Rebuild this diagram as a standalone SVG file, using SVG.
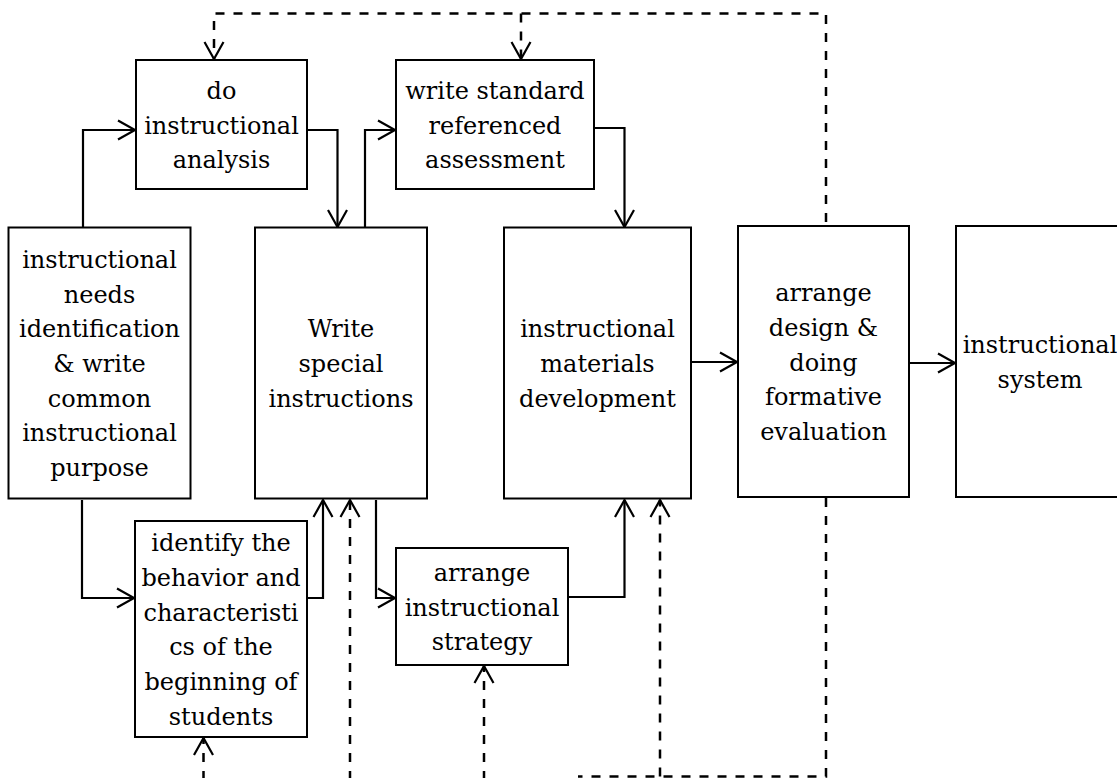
<svg xmlns="http://www.w3.org/2000/svg" width="1117" height="778" viewBox="0 0 1117 778">
<style>
.box{fill:#fff;stroke:#000;stroke-width:2}
.t{font-family:"DejaVu Serif","Liberation Serif",serif;font-size:24px;fill:#000;text-anchor:middle}
.c{fill:none;stroke:#000;stroke-width:2.2}
.d{fill:none;stroke:#000;stroke-width:2.5;stroke-dasharray:9 9}
</style>
<defs>
<marker id="a" markerWidth="20" markerHeight="22" refX="18" refY="10" orient="auto" markerUnits="userSpaceOnUse" viewBox="0 0 20 20" overflow="visible">
<path d="M1,0.5 L18,10 L1,19.5" fill="none" stroke="#000" stroke-width="2.2" stroke-dasharray="none"/>
</marker>
</defs>
<rect width="1117" height="778" fill="#fff"/>
<g id="connectors">
<path class="c" d="M83,227 V130 H135" marker-end="url(#a)"/>
<path class="c" d="M307,130 H337.5 V227" marker-end="url(#a)"/>
<path class="c" d="M365,227 V130 H395" marker-end="url(#a)"/>
<path class="c" d="M594,128 H624.5 V227" marker-end="url(#a)"/>
<path class="c" d="M691,362 H737" marker-end="url(#a)"/>
<path class="c" d="M909,363 H955" marker-end="url(#a)"/>
<path class="c" d="M82,500 V598 H134" marker-end="url(#a)"/>
<path class="c" d="M307,598 H323 V500" marker-end="url(#a)"/>
<path class="c" d="M376,500 V598 H395" marker-end="url(#a)"/>
<path class="c" d="M568,597 H624.5 V500" marker-end="url(#a)"/>
<path class="d" d="M826,222 V13.5 H214 V59" marker-end="url(#a)"/>
<path class="d" d="M521,13.5 V59" marker-end="url(#a)"/>
<path class="d" d="M826,498 V776.5 H578"/>
<path class="d" d="M660,776.5 V500" marker-end="url(#a)"/>
<path class="d" d="M203.5,780 V738" marker-end="url(#a)"/>
<path class="d" d="M350,780 V500" marker-end="url(#a)"/>
<path class="d" d="M484,780 V666" marker-end="url(#a)"/>
</g>
<g id="n1"><rect class="box" x="8.5" y="227.5" width="182" height="271"/>
<text class="t"><tspan x="99.5" y="268">instructional</tspan><tspan x="99.5" y="302.6">needs</tspan><tspan x="99.5" y="337.3">identification</tspan><tspan x="99.5" y="372">&amp; write</tspan><tspan x="99.5" y="406.7">common</tspan><tspan x="99.5" y="441.4">instructional</tspan><tspan x="99.5" y="476.1">purpose</tspan></text></g>
<g id="n2"><rect class="box" x="136" y="60" width="171" height="129"/>
<text class="t"><tspan x="221.5" y="98.8">do</tspan><tspan x="221.5" y="133.5">instructional</tspan><tspan x="221.5" y="168.2">analysis</tspan></text></g>
<g id="n3"><rect class="box" x="255" y="227.5" width="172" height="271"/>
<text class="t"><tspan x="341" y="337.3">Write</tspan><tspan x="341" y="372">special</tspan><tspan x="341" y="406.7">instructions</tspan></text></g>
<g id="n4"><rect class="box" x="396" y="60" width="198" height="129"/>
<text class="t"><tspan x="495" y="98.8">write standard</tspan><tspan x="495" y="133.5">referenced</tspan><tspan x="495" y="168.2">assessment</tspan></text></g>
<g id="n5"><rect class="box" x="135" y="521" width="172" height="216"/>
<text class="t"><tspan x="221" y="551.3">identify the</tspan><tspan x="221" y="586">behavior and</tspan><tspan x="221" y="620.7">characteristi</tspan><tspan x="221" y="655.4">cs of the</tspan><tspan x="221" y="690">beginning of</tspan><tspan x="221" y="724.8">students</tspan></text></g>
<g id="n6"><rect class="box" x="396" y="548" width="172" height="117"/>
<text class="t"><tspan x="482" y="580.8">arrange</tspan><tspan x="482" y="615.5">instructional</tspan><tspan x="482" y="650.2">strategy</tspan></text></g>
<g id="n7"><rect class="box" x="504" y="227.5" width="187" height="271"/>
<text class="t"><tspan x="597.5" y="337.3">instructional</tspan><tspan x="597.5" y="372">materials</tspan><tspan x="597.5" y="406.7">development</tspan></text></g>
<g id="n8"><rect class="box" x="738" y="226" width="171" height="271"/>
<text class="t"><tspan x="823.5" y="301.1">arrange</tspan><tspan x="823.5" y="335.8">design &amp;</tspan><tspan x="823.5" y="370.5">doing</tspan><tspan x="823.5" y="405.2">formative</tspan><tspan x="823.5" y="439.9">evaluation</tspan></text></g>
<g id="n9"><rect class="box" x="956" y="226" width="171" height="271"/>
<text class="t"><tspan x="1040" y="353.2">instructional</tspan><tspan x="1040" y="387.9">system</tspan></text></g>
</svg>
